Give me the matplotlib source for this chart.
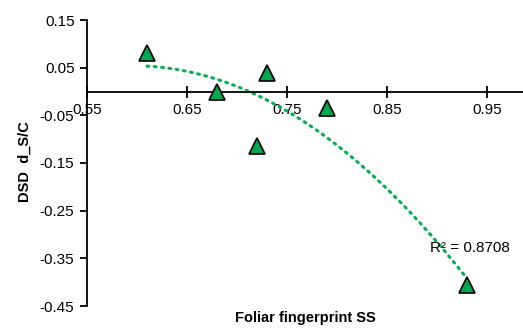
import numpy as np
import matplotlib
matplotlib.use("Agg")
import matplotlib.pyplot as plt

plt.rcParams['font.family'] = ['Liberation Sans', 'DejaVu Sans']

x_vals = [0.61, 0.68, 0.72, 0.73, 0.79, 0.93]
y_vals = [0.081, 0.0, -0.115, 0.039, -0.035, -0.406]
x_ticks = [0.55, 0.65, 0.75, 0.85, 0.95]
y_ticks = [0.15, 0.05, -0.05, -0.15, -0.25, -0.35, -0.45]
r2_label = "R² = 0.8708"

fig = plt.figure(figsize=(5.23, 3.28), dpi=100)
ax = fig.add_axes([87/523, 22/328, 436/523, 286/328])

coef = np.polyfit(x_vals, y_vals, 2)
xf = np.linspace(min(x_vals), max(x_vals), 200)
ax.plot(xf, np.polyval(coef, xf), color='#00B050', lw=2.2, ls=(0, (0.6, 1.8)),
        dash_capstyle='round', zorder=2)
ax.plot(x_vals, y_vals, ls='none', marker='^', ms=12, mfc='#00A650',
        mec='black', mew=1.2, zorder=3)

ax.set_xlim(0.55, 0.986)
ax.set_ylim(-0.45, 0.15)
ax.set_xticks(x_ticks)
ax.set_yticks(y_ticks)
ax.set_xticklabels([f"{v:.2f}" for v in x_ticks])
ax.set_yticklabels([f"{v:.2f}" for v in y_ticks])

ax.spines['top'].set_visible(False)
ax.spines['right'].set_visible(False)
ax.spines['bottom'].set_position(('data', 0))
ax.spines['bottom'].set_linewidth(1.3)
ax.spines['left'].set_linewidth(1.3)
ax.tick_params(axis='x', direction='inout', length=9, width=1.3, labelsize=11, pad=4)
ax.tick_params(axis='y', direction='out', length=5, width=1.3, labelsize=11, pad=4)

ax.text(0.893, -0.328, r2_label, fontsize=11, ha='left', va='center')

fig.text(25/523, 1 - 162/328, "DSD  d_S/C", rotation=90, fontsize=10.5,
         fontweight='bold', ha='center', va='center')
fig.text(305/523, 1 - 318/328, "Foliar fingerprint SS", fontsize=10.5,
         fontweight='bold', ha='center', va='center')

fig.savefig("out.png", dpi=100)
